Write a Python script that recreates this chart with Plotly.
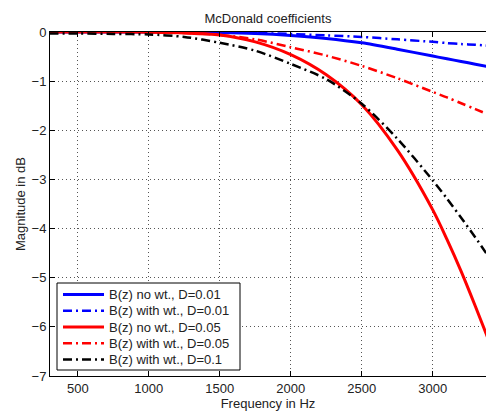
import plotly.graph_objects as go

freq = [300, 500, 750, 1000, 1250, 1500, 1750, 2000, 2250, 2500, 2750, 3000, 3100, 3200, 3300, 3400]

b_nowt_001 = [0, 0, 0, 0, -0.003, -0.01, -0.03, -0.07, -0.13, -0.22, -0.35, -0.49, -0.545, -0.60, -0.655, -0.71]
b_wt_001 = [0, 0, 0, 0, -0.002, -0.007, -0.02, -0.04, -0.07, -0.10, -0.15, -0.20, -0.225, -0.245, -0.26, -0.28]
b_nowt_005 = [0, 0, 0, -0.005, -0.02, -0.06, -0.2, -0.46, -0.87, -1.48, -2.4, -3.62, -4.22, -4.87, -5.58, -6.32]
b_wt_005 = [0, 0, 0, -0.005, -0.02, -0.06, -0.15, -0.31, -0.48, -0.69, -0.94, -1.22, -1.33, -1.45, -1.57, -1.69]
b_wt_01 = [-0.03, -0.03, -0.04, -0.05, -0.1, -0.22, -0.38, -0.65, -0.96, -1.46, -2.17, -3.02, -3.39, -3.78, -4.18, -4.6]

names = ["B(z) no wt., D=0.01", "B(z) with wt., D=0.01", "B(z) no wt., D=0.05",
         "B(z) with wt., D=0.05", "B(z) with wt., D=0.1"]
values = [b_nowt_001, b_wt_001, b_nowt_005, b_wt_005, b_wt_01]
colors = ["#0000ff", "#0000ff", "#ff0000", "#ff0000", "#000000"]
DD = "9px,4px,2px,4px"
dashes = ["solid", DD, "solid", DD, DD]
widths = [3, 2.5, 3, 2.5, 2.5]

xticks = [500, 1000, 1500, 2000, 2500, 3000]
yticks = [0, -1, -2, -3, -4, -5, -6, -7]

W, H = 486, 416
L, R, T, B = 50, 0, 32, 40
pw, ph = W - L - R, H - T - B


def px(page_x):
    return (page_x - L) / pw


def py(page_y):
    return (H - B - page_y) / ph


fig = go.Figure()
for name, ys, color, dash, w in zip(names, values, colors, dashes, widths):
    fig.add_trace(go.Scatter(x=freq, y=ys, mode="lines", name=name,
                             line=dict(color=color, dash=dash, width=w,
                                       shape="spline", smoothing=0.8)))

font = dict(family="Liberation Sans, Arial, sans-serif", size=13, color="#222")
axis_common = dict(
    showline=True, linecolor="#000", linewidth=1,
    ticks="inside", ticklen=5, tickcolor="#000",
    showgrid=True, gridcolor="#555", gridwidth=1, griddash="1px,3px",
    zeroline=False, tickfont=font,
)

# legend box drawn as layout decoration
shapes = [dict(type="rect", xref="paper", yref="paper",
               x0=px(57), x1=px(240), y0=py(370), y1=py(283),
               line=dict(color="#000", width=1), fillcolor="white", layer="above")]
annotations = []
for i, (name, color, dash, w) in enumerate(zip(names, colors, dashes, widths)):
    yc = py(294.5 + i * 16.25)
    shapes.append(dict(type="line", xref="paper", yref="paper",
                       x0=px(63), x1=px(104), y0=yc, y1=yc, layer="above",
                       line=dict(color=color, dash=dash, width=w)))
    annotations.append(dict(text=name, xref="paper", yref="paper", x=px(106.5), y=yc,
                            xanchor="left", yanchor="middle", showarrow=False, font=font))

fig.update_layout(
    width=W, height=H,
    margin=dict(l=L, r=R, t=T, b=B),
    paper_bgcolor="white", plot_bgcolor="white",
    font=font,
    title=dict(text="McDonald coefficients", x=268 / W, xanchor="center",
               y=1 - 18.5 / H, yanchor="middle", font=font),
    showlegend=False,
    hovermode=False,
    shapes=shapes,
    annotations=annotations,
)
fig.update_xaxes(range=[304, 3375], tickvals=xticks, mirror="ticks",
                 title=dict(text="Frequency in Hz", font=font, standoff=4),
                 **axis_common)
fig.update_yaxes(range=[-7, 0], tickvals=yticks, mirror=False,
                 title=dict(text="Magnitude in dB", font=font, standoff=3),
                 **axis_common)

fig.write_html("out.html", config={"displayModeBar": False},
               post_script="document.body.style.margin='0';")
